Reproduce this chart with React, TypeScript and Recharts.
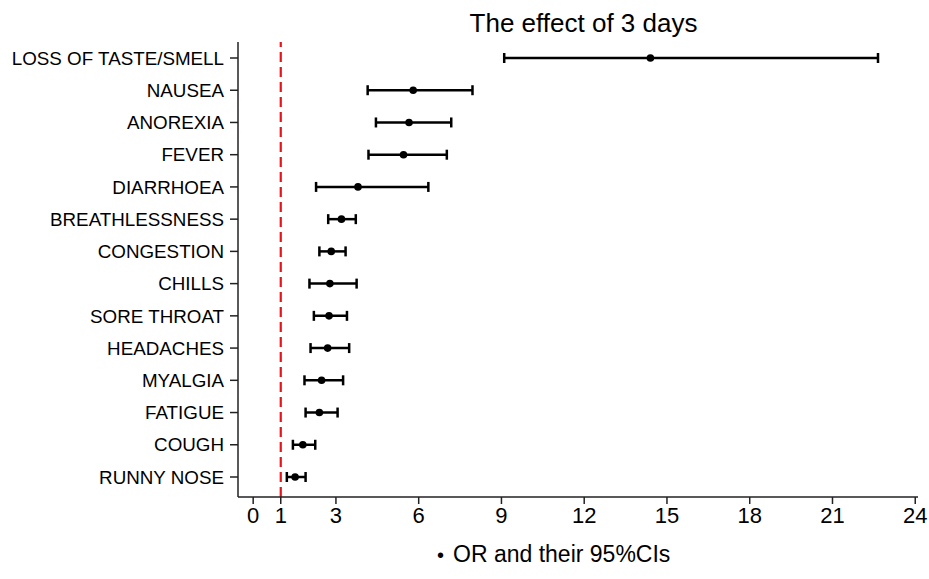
import {
  ComposedChart, Line, XAxis, YAxis, ErrorBar, ReferenceLine
} from 'recharts';

const symptoms = [
  'LOSS OF TASTE/SMELL', 'NAUSEA', 'ANOREXIA', 'FEVER', 'DIARRHOEA',
  'BREATHLESSNESS', 'CONGESTION', 'CHILLS', 'SORE THROAT', 'HEADACHES',
  'MYALGIA', 'FATIGUE', 'COUGH', 'RUNNY NOSE',
];
const oddsRatio = [14.4, 5.8, 5.65, 5.45, 3.8, 3.2, 2.83, 2.78, 2.75, 2.7, 2.48, 2.4, 1.8, 1.52];
const lowerCI = [9.1, 4.15, 4.45, 4.18, 2.28, 2.72, 2.4, 2.04, 2.2, 2.08, 1.86, 1.9, 1.44, 1.22];
const upperCI = [22.65, 7.95, 7.18, 7.02, 6.35, 3.72, 3.35, 3.75, 3.4, 3.48, 3.26, 3.06, 2.25, 1.9];
const xTicks = [0, 1, 3, 6, 9, 12, 15, 18, 21, 24];

const data = symptoms.map((name, i) => ({
  name,
  or: oddsRatio[i],
  err: [oddsRatio[i] - lowerCI[i], upperCI[i] - oddsRatio[i]],
}));

const font = '"Liberation Sans", Arial, Helvetica, sans-serif';

export default function App() {
  return (
    <div style={{ position: 'absolute', left: 0, top: 0, width: 929, height: 579, background: '#fff', fontFamily: font }}>
      <div style={{ position: 'absolute', left: 0, width: 929, top: 8, textAlign: 'center', fontSize: 26, color: '#000', paddingLeft: 238, boxSizing: 'border-box' }}>
        The effect of 3 days
      </div>
      <ComposedChart
        width={929}
        height={579}
        data={data}
        layout="vertical"
        margin={{ top: 42, right: 11, bottom: 52, left: 0 }}
      >
        <XAxis
          type="number"
          domain={[-0.55, 24.1]}
          ticks={xTicks}
          allowDataOverflow
          interval={0}
          height={30}
          tickSize={7}
          tickMargin={3}
          stroke="#222"
          strokeWidth={1.5}
          tick={{ fill: '#000', fontSize: 22, fontFamily: font }}
        />
        <YAxis
          type="category"
          dataKey="name"
          width={238}
          interval={0}
          tickSize={8}
          tickMargin={6}
          padding={{ top: 16, bottom: 20 }}
          stroke="#222"
          strokeWidth={1.5}
          tick={{ fill: '#000', fontSize: 18.8, fontFamily: font }}
        />
        <ReferenceLine x={1} stroke="#e8141b" strokeWidth={2.2} strokeDasharray="10 5" />
        <Line
          dataKey="or"
          stroke="none"
          isAnimationActive={false}
          activeDot={false}
          dot={{ r: 3.8, fill: '#000', stroke: '#000', strokeWidth: 0 }}
        >
          <ErrorBar dataKey="err" direction="x" width={5} stroke="#000" strokeWidth={2.5} />
        </Line>
      </ComposedChart>
      <div style={{ position: 'absolute', left: 437, top: 541, fontSize: 23, color: '#000', whiteSpace: 'nowrap' }}>
        <span style={{ fontSize: 20, marginRight: 9 }}>•</span>OR and their 95%CIs
      </div>
    </div>
  );
}
